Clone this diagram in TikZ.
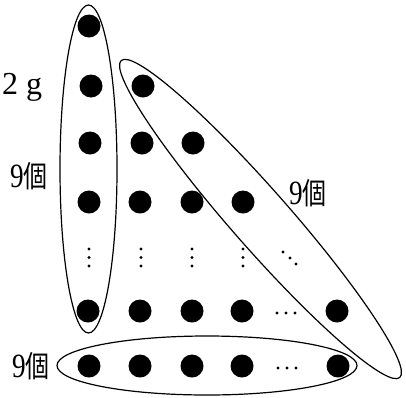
\documentclass[tikz,border=0pt]{standalone}
\usepackage{fontspec}
\setmainfont{Liberation Serif}
\newfontfamily\cjk{Noto Sans CJK JP}
\begin{document}
\begin{tikzpicture}[x=1pt,y=-1pt,
  dot/.style={circle,fill=black,inner sep=0pt,minimum size=23pt},
  sdot/.style={circle,fill=black,inner sep=0pt,minimum size=3.2pt},
  ring/.style={draw=black,line width=1.2pt},
  lab/.style={inner sep=0pt,anchor=center}]
\useasboundingbox (0,0) rectangle (406,397);
\newcommand{\kolab}{\scalebox{0.8}[1]{\fontsize{34}{34}\selectfont 9}\scalebox{0.8}[1]{\cjk\fontsize{30}{30}\selectfont 個}}
% rows of dots
\node[dot] (r1c1) at (89,26) {};
\node[dot] (r2c1) at (91,86) {};
\node[dot] (r2c2) at (143,86) {};
\node[dot] (r3c1) at (90,143) {};
\node[dot] (r3c2) at (142,143) {};
\node[dot] (r3c3) at (193,143) {};
\node[dot] (r4c1) at (89,202) {};
\node[dot] (r4c2) at (140,202) {};
\node[dot] (r4c3) at (192,202) {};
\node[dot] (r4c4) at (243,202) {};
\node[dot] (r5c1) at (88,311) {};
\node[dot] (r5c2) at (140,311) {};
\node[dot] (r5c3) at (192,311) {};
\node[dot] (r5c4) at (242,311) {};
\node[dot] (r5c9) at (337,311) {};
\node[dot] (r6c1) at (89,366) {};
\node[dot] (r6c2) at (140,366) {};
\node[dot] (r6c3) at (192,366) {};
\node[dot] (r6c4) at (242,366) {};
\node[dot] (r6c9) at (338,366) {};
% vertical ellipses
\foreach \x [count=\i] in {89,141,192,243}{
  \node[sdot] (va\i) at (\x,249) {};
  \node[sdot] (vb\i) at (\x,257.5) {};
  \node[sdot] (vc\i) at (\x,266) {};
}
% diagonal ellipsis
\node[sdot] (da) at (283,252) {};
\node[sdot] (db) at (290,258) {};
\node[sdot] (dc) at (296,264) {};
% horizontal ellipses
\node[sdot] (ha5) at (277,313) {};
\node[sdot] (hb5) at (286,313) {};
\node[sdot] (hc5) at (295,313) {};
\node[sdot] (ha6) at (278,368) {};
\node[sdot] (hb6) at (287,368) {};
\node[sdot] (hc6) at (296,368) {};
% enclosing ellipses
\draw[ring] (88.5,169) ellipse [x radius=28.5pt, y radius=164pt];
\draw[ring] (207,365.5) ellipse [x radius=150pt, y radius=29.5pt];
\draw[ring,rotate around={-48.7:(260.5,219)}] (260.5,219) ellipse [x radius=211pt, y radius=29pt];
% labels
\node[lab,anchor=base west] (g) at (2,94) {\fontsize{32}{32}\selectfont 2 g};
\node[lab] (n1) at (29,176) {\kolab};
\node[lab] (n2) at (308,193) {\kolab};
\node[lab] (n3) at (31,366) {\kolab};
\end{tikzpicture}
\end{document}
